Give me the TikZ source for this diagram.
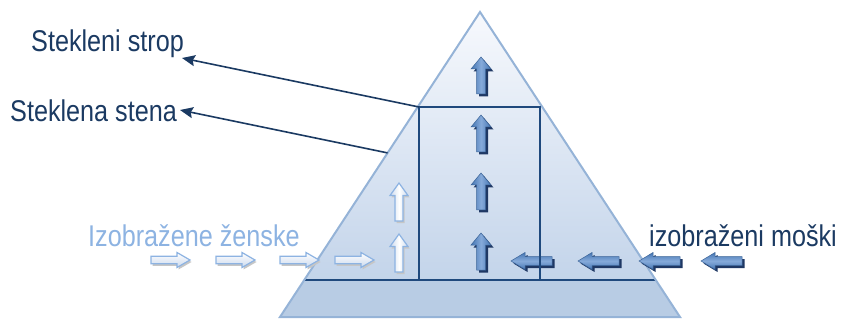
\documentclass[tikz,border=0pt]{standalone}
\usepackage{graphicx}
\usepackage{fontspec}
\setmainfont{Liberation Sans}
\usetikzlibrary{arrows.meta,calc}

\definecolor{navy}{HTML}{1B3A62}
\definecolor{edgeblue}{HTML}{95B3D7}
\definecolor{wallnavy}{HTML}{1F497D}
\definecolor{paletop}{HTML}{F7F9FD}
\definecolor{palebot}{HTML}{C3D4EA}
\definecolor{bandfill}{HTML}{B8CCE4}
\definecolor{menblue}{HTML}{4576B3}
\definecolor{menlight}{HTML}{86AADA}
\definecolor{menshadow}{HTML}{1F3864}
\definecolor{womenline}{HTML}{8DB3E2}
\definecolor{womenfill}{HTML}{CCDAEE}

% tall, slightly condensed lettering
\newcommand\narrowtext[1]{\scalebox{0.84}[1]{#1}}

\tikzset{
  lbltext/.style={font=\fontsize{30}{36}\selectfont, inner sep=0pt},
  conn/.style={draw=navy, line width=1.6pt, -{Stealth[length=13pt,width=11pt,inset=2pt]}},
  % outlines of the block arrows, tip at the local origin
  leftpoly/.style={insert path={(0,0) -- (14,-8.5) -- (14,-4.5) -- (41,-4.5) -- (41,4.5) -- (14,4.5) -- (14,8.5) -- cycle}},
  uppoly/.style={insert path={(0,0) -- (10,12) -- (4.5,12) -- (4.5,37) -- (-4.5,37) -- (-4.5,12) -- (-10,12) -- cycle}},
  rightpoly/.style={insert path={(0,0) -- (-13,-7.5) -- (-13,-3.8) -- (-39,-3.8) -- (-39,3.8) -- (-13,3.8) -- (-13,7.5) -- cycle}},
  lightuppoly/.style={insert path={(0,0) -- (9,12.5) -- (4,12.5) -- (4,38) -- (-4,38) -- (-4,12.5) -- (-9,12.5) -- cycle}},
  menleft/.pic={
    \fill[menshadow, shift={(2.5,2.5)}, leftpoly];
    \shade[top color=menblue, bottom color=menblue, middle color=menlight, leftpoly];
    \draw[menblue!85!black, line width=0.5pt, leftpoly];
  },
  menup/.pic={
    \fill[menshadow, shift={(2.5,2.5)}, uppoly];
    \shade[left color=menblue, right color=menblue, middle color=menlight, uppoly];
    \draw[menblue!85!black, line width=0.5pt, uppoly];
  },
  womenright/.pic={
    \fill[gray!45, shift={(1.5,2)}, rightpoly];
    \shade[top color=white, bottom color=womenfill, rightpoly];
    \draw[womenline, line width=1.2pt, rightpoly];
  },
  womenup/.pic={
    \fill[gray!45, shift={(1.5,2)}, lightuppoly];
    \shade[left color=womenfill, right color=womenfill, middle color=white, lightuppoly];
    \draw[womenline, line width=1.2pt, lightuppoly];
  }
}

\begin{document}
\begin{tikzpicture}[x=1pt, y=-1pt]
  \useasboundingbox (0,0) rectangle (842,320);

  % pyramid corners and the floor line
  \coordinate (apex) at (480,12);
  \coordinate (bl) at (280,317);
  \coordinate (br) at (680,317);
  \coordinate (floorL) at ($(apex)!0.8787!(bl)$);
  \coordinate (floorR) at ($(apex)!0.8787!(br)$);
  \coordinate (wallpt) at ($(apex)!0.462!(bl)$);

  % pyramid body
  \shade[top color=paletop, bottom color=palebot] (apex) -- (floorL) -- (floorR) -- cycle;
  \fill[bandfill] (floorL) -- (bl) -- (br) -- (floorR) -- cycle;
  \draw[wallnavy, line width=1.8pt] (floorL) -- (floorR);
  \draw[edgeblue, line width=2pt, line join=miter] (apex) -- (bl) -- (br) -- cycle;

  % women: right and up
  \pic at (190,260) {womenright};
  \pic at (255,260) {womenright};
  \pic at (319,260) {womenright};
  \pic at (374,260) {womenright};
  \pic at (399,183) {womenup};
  \pic at (399,234) {womenup};

  % men: left and up
  \pic at (511,261) {menleft};
  \pic at (578,261) {menleft};
  \pic at (639,261) {menleft};
  \pic at (701,261) {menleft};
  \pic at (481,57) {menup};
  \pic at (481,115) {menup};
  \pic at (481,173) {menup};
  \pic at (481,233) {menup};

  % glass room
  \node[draw=wallnavy, line width=1.8pt, minimum width=121pt, minimum height=173pt,
        inner sep=0pt, outer sep=0pt, anchor=north west] (room) at (419,107) {};

  % labels
  \node[lbltext, text=navy, anchor=base west] (strop) at (31,52) {\narrowtext{Stekleni strop}};
  \node[lbltext, text=navy, anchor=base west] (stena) at (10,122) {\narrowtext{Steklena stena}};
  \node[lbltext, text=womenline, anchor=base west] (women) at (88,246) {\narrowtext{Izobražene ženske}};
  \node[lbltext, text=navy, anchor=base west] (men) at (649,246) {\narrowtext{izobraženi moški}};

  % pointers to the labels
  \coordinate (tipA) at (182,58);
  \coordinate (tipB) at (180,110);
  \draw[conn] (room.north west) -- (tipA);
  \draw[conn] (wallpt) -- (tipB);
\end{tikzpicture}
\end{document}
